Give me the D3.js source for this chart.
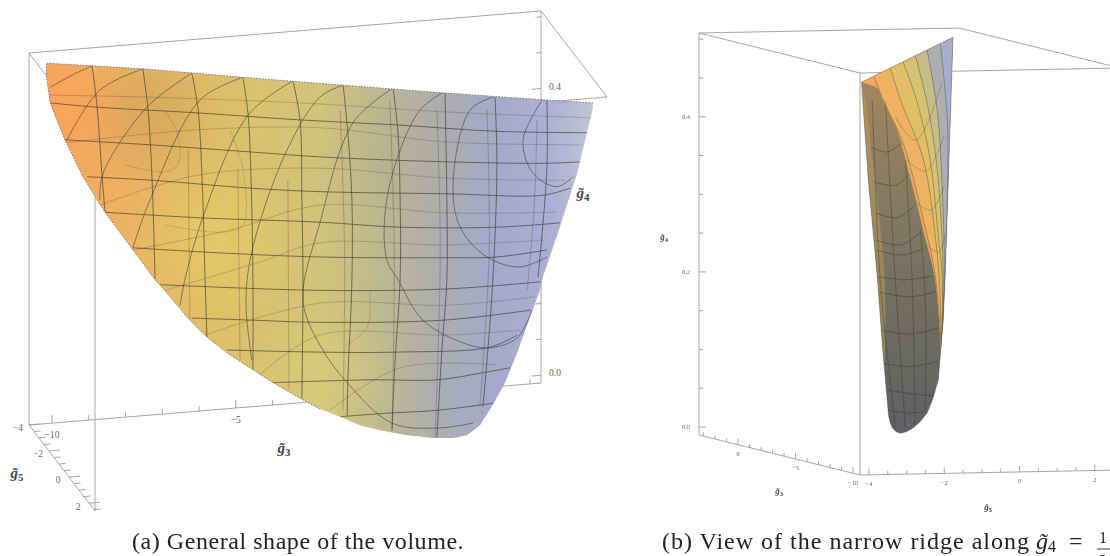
<!DOCTYPE html>
<html>
<head>
<meta charset="utf-8">
<script src="https://cdn.jsdelivr.net/npm/d3@7"></script>
<style>
  html, body { margin: 0; padding: 0; background: #fff; overflow: hidden; }
  svg { display: block; }
  text { font-family: "Liberation Serif", serif; }
</style>
</head>
<body>
<div class="canvas"></div>
<script>
// --- box extents and ticks, panel (a) and (b) share the same ranges
const g4Major = [0, 0.4];
const g4MajorB = [0, 0.2, 0.4];
const g3MajorA = [-10, -5];
const g3MajorB = [0, -5, -10];
const g5Major = [-4, -2, 0, 2];

// --- surface colours, left to right
const surfaceStops = [0, 0.1, 0.3, 0.5, 0.62, 0.72, 0.82, 0.92, 1];
const surfaceColors = ['#f7a35f', '#eeb162', '#dfc068', '#d2c47a', '#bcb893', '#adaeb0', '#a8a9c8', '#adb0d4', '#c2c4d2'];

// --- panel (a): outline of the volume, read as [g3, g4] in the view plane
const outlineA = [[-10.14,.435],[-7.53,.427],[-4.81,.415],[-2.09,.404],[.68,.393],[3.45,.383],[4.70,.379],[4.70,.372],
  [4.27,.280],[3.80,.204],[3.34,.134],[3.26,.115],[2.99,.077],[2.64,.027],[2.31,-.015],[1.98,-.046],[1.63,-.075],
  [1.28,-.089],[.90,-.093],[.35,-.093],[-.35,-.089],[-1.09,-.082],[-1.63,-.075],[-2.17,-.063],[-2.72,-.052],
  [-3.26,-.037],[-3.99,-.015],[-4.54,.003],[-5.16,.024],[-5.79,.049],[-6.33,.077],[-6.79,.106],[-7.20,.130],
  [-7.80,.172],[-8.56,.225],[-9.16,.275],[-9.65,.327],[-10.05,.379],[-10.16,.421]];

// strong lines running down the front of the surface
const downLinesA = [
  [[-8.91,.431],[-8.78,.376],[-8.64,.277],[-8.56,.225]],
  [[-7.53,.427],[-7.39,.369],[-7.28,.270],[-7.20,.130]],
  [[-6.20,.421],[-6.03,.369],[-5.92,.270],[-5.84,.130],[-5.79,.049]],
  [[-4.81,.415],[-4.67,.362],[-4.59,.270],[-4.54,.130],[-4.54,.003]],
  [[-3.45,.410],[-3.26,.355],[-3.21,.242],[-3.18,.130],[-3.21,-.037]],
  [[-2.09,.404],[-1.96,.337],[-1.85,.242],[-1.85,.130],[-1.96,-.011],[-1.98,-.063]],
  [[-.73,.400],[-.60,.337],[-.54,.242],[-.54,.130],[-.68,.013],[-.76,-.082]],
  [[.68,.393],[.73,.242],[.73,.130],[.60,.035],[.46,-.092]],
  [[2.04,.387],[2.09,.289],[1.98,.130],[1.85,.035],[1.71,-.049]],
  [[3.45,.383],[3.45,.289],[3.32,.196],[3.21,.134]]
];
// the same lines seen through the surface
const downFaintA = [
  [[-6.30,.313],[-6.25,.059]],
  [[-4.95,.285],[-4.89,.017]],
  [[-3.59,.270],[-3.56,-.025]],
  [[-2.17,.369],[-2.05,.170],[-2.09,-.054]],
  [[-.82,.383],[-.70,.170],[-.76,-.082]],
  [[.46,.369],[.55,.170],[.41,-.092]],
  [[1.82,.369],[1.88,.170],[1.63,-.046]],
  [[3.18,.355],[3.10,.230],[2.91,.115]]
];
// strong lines running across
const acrossLinesA = [
  [[-10.05,.379],[-8.78,.373],[-6.06,.365],[-3.26,.355],[-.63,.348],[2.09,.339],[4.54,.337]],
  [[-9.65,.327],[-7.34,.320],[-4.62,.310],[-2.72,.303],[.73,.296],[3.45,.294],[4.35,.296]],
  [[-9.05,.275],[-7.26,.270],[-4.62,.259],[-2.72,.254],[.73,.251],[3.34,.249],[4.08,.259]],
  [[-8.56,.225],[-5.90,.217],[-2.72,.211],[-.54,.204],[2.09,.204],[3.80,.210]],
  [[-7.80,.175],[-5.90,.169],[-2.72,.162],[.73,.161],[2.09,.162],[3.45,.172]],
  [[-7.07,.123],[-2.72,.115],[.73,.117],[3.26,.127]],
  [[-6.20,.076],[-4.54,.073],[-2.72,.070],[.63,.073],[2.99,.087]],
  [[-5.24,.031],[-2.72,.028],[-.63,.028],[1.90,.035],[2.64,.052]],
  [[-3.99,-.015],[-1.36,-.011],[.46,-.011],[1.71,-.001],[2.45,.006]],
  [[-2.17,-.063],[-.90,-.058],[.46,-.054],[1.98,-.044]]
];
const acrossFaintA = [
  [[-10.11,.390],[-7.34,.387],[-3.26,.379],[.82,.366],[4.62,.358]],
  [[-9.59,.323],[-6.06,.341],[-2.72,.344],[.73,.324],[4.35,.320]],
  [[-8.70,.235],[-6.06,.277],[-2.72,.287],[.73,.273],[3.94,.270]],
  [[-7.80,.172],[-5.16,.200],[-2.72,.235],[.73,.224],[3.67,.225]],
  [[-6.93,.115],[-4.35,.155],[-2.72,.182],[.73,.179],[3.40,.186]],
  [[-5.84,.052],[-2.72,.097],[.73,.094],[3.13,.106]],
  [[-4.35,-.004],[-2.72,.052],[.73,.052],[2.72,.059]],
  [[-2.45,-.054],[-.54,.006],[2.09,.010]]
];
// arcs that leave the top edge and bend round
const arcsA = [
  [[-8.91,.431],[-9.46,.418],[-10.05,.401]],
  [[-7.53,.427],[-8.70,.397],[-9.59,.327]],
  [[-6.20,.421],[-7.42,.373],[-8.61,.280],[-8.70,.242]],
  [[-4.81,.415],[-5.98,.383],[-7.34,.242],[-7.80,.175]],
  [[-3.45,.410],[-4.67,.362],[-5.90,.218],[-6.39,.130],[-6.52,.094]],
  [[-2.09,.404],[-2.72,.387],[-3.61,.313],[-4.54,.176],[-4.73,.101],[-4.57,.017]],
  [[-.73,.400],[-1.82,.351],[-2.72,.210],[-3.18,.101],[-2.72,.038],[-1.98,-.015],[-.76,-.072],[.46,-.079],[1.44,-.072]],
  [[.63,.394],[0,.369],[-.63,.299],[-.95,.224],[-.90,.158],[-.60,.130],[.08,.073],[1.17,.041],[1.90,.034],[2.64,.048],[3.04,.087]],
  [[1.98,.387],[1.36,.369],[.90,.266],[1.09,.204],[1.82,.162],[2.72,.148],[3.45,.162]],
  [[3.32,.383],[2.80,.327],[3.07,.280],[3.72,.261],[4.16,.275]]
];
const loopsA = [
  [[-6.93,.369],[-6.58,.334],[-6.58,.292],[-6.93,.282],[-8.02,.292]],
  [[-5.16,.341],[-4.81,.285],[-4.81,.207],[-5.30,.197],[-6.93,.207]],
  [[-1.36,.115],[-1.44,.063],[-2.09,.035]]
];

// --- panel (b): outline and faces, read as [g5, g4] in the view plane
const outlineB = [[-4.20,.445],[-1.76,.503],[-1.84,.383],[-1.97,.194],[-2.02,.138],[-2.15,.061],[-2.30,.036],[-2.45,.018],
  [-2.65,.006],[-2.82,-.001],[-3.00,-.006],[-3.16,-.008],[-3.28,-.006],[-3.38,-.001],[-3.43,.005],[-3.48,.015],
  [-3.64,.103],[-3.78,.194],[-4.02,.319]];
// curves that cut the lit face into colour bands, the first is the edge against the dark face
const bandCurvesB = [
  [[-4.20,.445],[-3.70,.435],[-3.35,.400],[-2.90,.323],[-2.50,.245],[-2.23,.190],[-2.07,.099]],
  [[-3.88,.454],[-3.62,.422],[-3.09,.366],[-2.55,.267],[-2.23,.194],[-2.07,.099]],
  [[-3.43,.463],[-3.16,.422],[-2.55,.345],[-2.23,.245],[-2.13,.194],[-2.07,.099]],
  [[-3.09,.471],[-2.71,.418],[-2.37,.345],[-2.15,.245],[-2.05,.194],[-2.07,.099]],
  [[-2.77,.480],[-2.45,.418],[-2.18,.332],[-2.02,.194],[-2.07,.099]],
  [[-2.45,.486],[-2.18,.409],[-2.05,.310],[-1.99,.194],[-2.07,.099]],
  [[-2.10,.495],[-1.91,.396],[-1.91,.302],[-1.97,.194],[-2.07,.099]],
  [[-1.76,.503],[-1.84,.383],[-1.97,.194],[-2.07,.099]]
];
const bandShares = [0.02, 0.12, 0.28, 0.42, 0.56, 0.72, 0.86];
const sliverB = [[-4.20,.445],[-4.02,.319],[-3.78,.194],[-3.60,.080],[-3.58,.190],[-3.84,.319],[-4.08,.42]];
const acrossLitB = [
  [[-3.30,.400],[-2.75,.370],[-2.05,.445]],
  [[-3.00,.345],[-2.50,.330],[-2.00,.375]],
  [[-2.75,.290],[-2.35,.280],[-2.00,.310]],
  [[-2.45,.235],[-2.15,.225],[-1.95,.250]]
];
// lines on the dark face
const downDarkB = [
  [[-3.91,.420],[-3.70,.190],[-3.30,.000]],
  [[-3.56,.420],[-3.30,.190],[-3.03,.000]],
  [[-3.03,.345],[-2.85,.190],[-2.77,.002]],
  [[-2.63,.255],[-2.50,.165],[-2.50,.022]]
];
const acrossDarkB = [
  [[-3.95,.361],[-3.50,.355],[-3.10,.368]],
  [[-3.85,.316],[-3.30,.312],[-2.95,.325]],
  [[-3.82,.276],[-3.25,.270],[-2.80,.285]],
  [[-3.80,.241],[-3.15,.235],[-2.65,.250]],
  [[-3.78,.228],[-3.10,.222],[-2.55,.230]],
  [[-3.78,.194],[-3.00,.190],[-2.30,.195]],
  [[-3.72,.174],[-2.90,.168],[-2.20,.175]],
  [[-3.68,.125],[-2.90,.120],[-2.15,.128]],
  [[-3.60,.082],[-2.90,.078],[-2.15,.085]],
  [[-3.52,.048],[-2.90,.043],[-2.30,.040]],
  [[-3.48,.022],[-3.00,.018],[-2.50,.020]]
];

// selecting canvas and creating svg container
const svg = d3.select('.canvas')
  .append('svg')
  .attr('width', 1110)
  .attr('height', 556);

const defs = svg.append('defs');
defs.append('filter').attr('id', 'soft')
  .append('feGaussianBlur').attr('stdDeviation', 0.5);
defs.append('filter').attr('id', 'softer')
  .attr('x', '-50%').attr('y', '-50%').attr('width', '200%').attr('height', '200%')
  .append('feGaussianBlur').attr('stdDeviation', 22);

// one affine projection per panel, built out of plain linear scales
function makeProject(x3, x5, floorY3, y5, y4) {
  return (g3, g5, g4) => [x3(g3) + x5(g5), floorY3(g3) + y5(g5) + y4(g4)];
}

function drawBox(group, project, edges) {
  group.selectAll('line.edge')
    .data(edges)
    .enter().append('line')
    .attr('class', 'edge')
    .attr('x1', d => project(...d[0])[0])
    .attr('y1', d => project(...d[0])[1])
    .attr('x2', d => project(...d[1])[0])
    .attr('y2', d => project(...d[1])[1])
    .attr('stroke', '#a6a6a6')
    .attr('stroke-width', 1);
}

// the top frame is the same in both panels
function topEdges(a, b, c, d, hi) {
  return [[[a, c, hi], [b, c, hi]], [[a, c, hi], [a, d, hi]], [[b, c, hi], [b, d, hi]], [[a, d, hi], [b, d, hi]]];
}

function drawTicks(group, ticks, from, dx, dy) {
  group.selectAll(null)
    .data(ticks)
    .enter().append('line')
    .attr('x1', d => from(d.v)[0])
    .attr('y1', d => from(d.v)[1])
    .attr('x2', d => from(d.v)[0] + dx * (d.major ? 1 : 0.6))
    .attr('y2', d => from(d.v)[1] + dy * (d.major ? 1 : 0.6))
    .attr('stroke', '#9a9a9a')
    .attr('stroke-width', 0.9);
}

function tickList(lo, hi, step, majors) {
  return d3.range(lo, hi + 1e-6, step).map(v => ({ v: v, major: majors.some(m => Math.abs(m - v) < 1e-6) }));
}

function drawLabels(group, values, from, dx, dy, fmt, size) {
  group.selectAll(null)
    .data(values)
    .enter().append('text')
    .attr('x', d => from(d)[0] + dx)
    .attr('y', d => from(d)[1] + dy)
    .attr('dy', '0.35em')
    .attr('text-anchor', 'middle')
    .attr('font-size', size)
    .attr('fill', '#666')
    .text(fmt);
}

function axisTitle(group, sub, x, y, size) {
  const t = group.append('text')
    .attr('x', x).attr('y', y)
    .attr('text-anchor', 'middle')
    .attr('font-size', size)
    .attr('font-weight', 'bold')
    .attr('fill', '#444');
  t.append('tspan').attr('font-style', 'italic').text('g\u0303');
  t.append('tspan').attr('font-size', size * 0.72).attr('dy', size * 0.22).text(sub);
}

function meshLines(group, gen, lines, color, width) {
  group.selectAll(null)
    .data(lines)
    .enter().append('path')
    .attr('d', gen)
    .attr('fill', 'none')
    .attr('stroke', color)
    .attr('stroke-width', width);
}

const minus = d => String(d).replace('-', '\u2212');
const curve = d3.curveCatmullRom.alpha(0.5);

// ===================== panel (a) =====================
const panelA = svg.append('g');
const limA = { g3: [-10.625, 3.3], g5: [-4, 2.6], g4: [-0.011, 0.508] };

const projectA = makeProject(
  d3.scaleLinear().domain([-10, 3.3]).range([52, 541]),
  d3.scaleLinear().domain(limA.g5).range([0, 66]),
  d3.scaleLinear().domain(limA.g3).range([425, 383]),
  d3.scaleLinear().domain(limA.g5).range([0, 86]),
  d3.scaleLinear().domain(limA.g4).range([0, -372])
);
{
  const [a, b] = limA.g3, [c, d] = limA.g5, [lo, hi] = limA.g4;
  drawBox(panelA, projectA, topEdges(a, b, c, d, hi).concat([
    [[a, c, lo], [b, c, lo]], [[a, c, lo], [a, d, lo]],
    [[a, c, lo], [a, c, hi]], [[b, c, lo], [b, c, hi]], [[a, d, lo], [a, d, hi]]
  ]));
}

drawTicks(panelA, tickList(-10, 3, 1, g3MajorA), v => projectA(v, limA.g5[0], limA.g4[0]), 0, -8);
drawTicks(panelA, tickList(-4, 2.5, 0.5, g5Major), v => projectA(limA.g3[0], v, limA.g4[0]), 11, -1);
drawTicks(panelA, tickList(0, 0.5, 0.05, g4Major), v => projectA(limA.g3[1], limA.g5[0], v), -9, 1);

drawLabels(panelA, g3MajorA, v => projectA(v, limA.g5[0], limA.g4[0]), 0, 12, minus, 9.5);
drawLabels(panelA, g5Major, v => projectA(limA.g3[0], v, limA.g4[0]), -11, 3, minus, 9.5);
drawLabels(panelA, g4Major, v => projectA(limA.g3[1], limA.g5[0], v), 14, -2, d3.format('.1f'), 9.5);

axisTitle(panelA, '3', 284, 453, 15);
axisTitle(panelA, '5', 17, 478, 15);
axisTitle(panelA, '4', 583, 198, 15);

// view plane of the surface
const viewXA = d3.scaleLinear().domain([-10, 0]).range([52, 420]);
const viewYA = d3.scaleLinear().domain([0, 0.4]).range([372, 88]);
const lineA = d3.line().x(d => viewXA(d[0])).y(d => viewYA(d[1]));
const curveA = d3.line().x(d => viewXA(d[0])).y(d => viewYA(d[1])).curve(curve);

const gradA = defs.append('linearGradient').attr('id', 'surfaceA')
  .attr('gradientUnits', 'userSpaceOnUse')
  .attr('x1', viewXA(-10.16)).attr('x2', viewXA(4.7))
  .attr('y1', 0).attr('y2', 0);
gradA.selectAll('stop')
  .data(surfaceStops)
  .enter().append('stop')
  .attr('offset', d => d)
  .attr('stop-color', (d, i) => surfaceColors[i]);

defs.append('clipPath').attr('id', 'clipA')
  .append('path').attr('d', lineA(outlineA) + 'Z');

panelA.append('path')
  .attr('d', lineA(outlineA) + 'Z')
  .attr('fill', 'url(#surfaceA)');

// soft patches of light and shade on the surface
const shadeA = panelA.append('g').attr('clip-path', 'url(#clipA)')
  .append('g').attr('filter', 'url(#softer)');
const patchesA = [
  { g3: -9.51, g4: .369, r: 40, fill: '#ffa25c', o: .7 },
  { g3: -7.34, g4: .362, r: 50, fill: '#c99a55', o: .45 },
  { g3: -8.97, g4: .256, r: 40, fill: '#f7a85e', o: .45 },
  { g3: -5.43, g4: .186, r: 55, fill: '#e8cc68', o: .55 },
  { g3: -2.45, g4: .003, r: 50, fill: '#ddd07a', o: .45 },
  { g3: -.54, g4: .299, r: 55, fill: '#aeaa8a', o: .3 },
  { g3: 2.5, g4: .172, r: 55, fill: '#a2a4d2', o: .25 },
  { g3: 1.36, g4: -.039, r: 35, fill: '#a2a8cd', o: .4 }
];
shadeA.selectAll('circle')
  .data(patchesA)
  .enter().append('circle')
  .attr('cx', d => viewXA(d.g3))
  .attr('cy', d => viewYA(d.g4))
  .attr('r', d => d.r)
  .attr('fill', d => d.fill)
  .attr('opacity', d => d.o);

const meshA = panelA.append('g').attr('filter', 'url(#soft)').attr('clip-path', 'url(#clipA)').attr('fill', 'none');
meshLines(meshA, curveA, downFaintA, 'rgba(50,50,40,0.26)', 1);
meshLines(meshA, curveA, acrossFaintA, 'rgba(50,50,40,0.22)', 1);
meshLines(meshA, curveA, loopsA, 'rgba(50,50,40,0.16)', 1);
meshLines(meshA, curveA, arcsA, 'rgba(50,50,50,0.52)', 1);
meshLines(meshA, curveA, downLinesA, 'rgba(50,50,45,0.6)', 1);
meshLines(meshA, curveA, acrossLinesA, 'rgba(50,50,45,0.6)', 1);

// serrated rim of the surface, along the top and down the left side
const rimA = [outlineA.slice(0, 7), outlineA.slice(24).concat([outlineA[0]])];
panelA.selectAll('path.rim')
  .data(rimA)
  .enter().append('path')
  .attr('class', 'rim')
  .attr('d', lineA)
  .attr('fill', 'none')
  .attr('stroke', '#808080')
  .attr('stroke-width', 1)
  .attr('stroke-dasharray', '1.6,1.4');

// ===================== panel (b) =====================
const panelB = svg.append('g');
const limB = { g3: [3.4, -10.6], g5: [-4.24, 2.67], g4: [-0.0103, 0.508] };

const projectB = makeProject(
  d3.scaleLinear().domain(limB.g3).range([699, 860]),
  d3.scaleLinear().domain(limB.g5).range([0, 260]),
  d3.scaleLinear().domain(limB.g3).range([435, 475]),
  d3.scaleLinear().domain(limB.g5).range([0, -5]),
  d3.scaleLinear().domain(limB.g4).range([0, -402])
);
{
  const [a, b] = limB.g3, [c, d] = limB.g5, [lo, hi] = limB.g4;
  drawBox(panelB, projectB, topEdges(a, b, c, d, hi).concat([
    [[a, c, lo], [b, c, lo]], [[b, c, lo], [b, d, lo]],
    [[a, c, lo], [a, c, hi]], [[b, c, lo], [b, c, hi]]
  ]));
}

drawTicks(panelB, tickList(-10, 3, 1, g3MajorB), v => projectB(v, limB.g5[0], limB.g4[0]), 0, -6);
drawTicks(panelB, tickList(-4, 2.5, 0.5, g5Major), v => projectB(limB.g3[1], v, limB.g4[0]), 0, -6);
drawTicks(panelB, tickList(0, 0.5, 0.05, g4MajorB), v => projectB(limB.g3[0], limB.g5[0], v), 7, 0);

drawLabels(panelB, g3MajorB, v => projectB(v, limB.g5[0], limB.g4[0]), 0, 9, minus, 6.5);
drawLabels(panelB, g5Major, v => projectB(limB.g3[1], v, limB.g4[0]), 0, 9, minus, 6.5);
drawLabels(panelB, g4MajorB, v => projectB(limB.g3[0], limB.g5[0], v), -13, 0, d3.format('.1f'), 6.5);

axisTitle(panelB, '3', 779, 494, 9);
axisTitle(panelB, '5', 988, 510, 9);
axisTitle(panelB, '4', 664, 240, 9);

const viewXB = d3.scaleLinear().domain([-4, 2]).range([869, 1094]);
const viewYB = d3.scaleLinear().domain([0, 0.4]).range([427, 117]);
const lineB = d3.line().x(d => viewXB(d[0])).y(d => viewYB(d[1]));
const curveB = d3.line().x(d => viewXB(d[0])).y(d => viewYB(d[1])).curve(curve);

const darkGrad = defs.append('linearGradient').attr('id', 'darkB')
  .attr('x1', 0).attr('x2', 0).attr('y1', 0).attr('y2', 1);
darkGrad.append('stop').attr('offset', 0).attr('stop-color', '#b08a5c');
darkGrad.append('stop').attr('offset', 0.3).attr('stop-color', '#8f7f62');
darkGrad.append('stop').attr('offset', 0.65).attr('stop-color', '#72705f');
darkGrad.append('stop').attr('offset', 1).attr('stop-color', '#5f5f66');

defs.append('clipPath').attr('id', 'clipB')
  .append('path').attr('d', lineB(outlineB) + 'Z');

panelB.append('path')
  .attr('d', lineB(outlineB) + 'Z')
  .attr('fill', 'url(#darkB)');

const faceB = panelB.append('g').attr('clip-path', 'url(#clipB)');

// thin yellow sliver along the left edge of the dark face
faceB.append('path')
  .attr('d', curveB(sliverB))
  .attr('fill', '#c2a35c')
  .attr('opacity', 0.45)
  .attr('filter', 'url(#soft)');

const bandColor = d3.scaleLinear().domain(surfaceStops).range(surfaceColors);
faceB.selectAll('path.band')
  .data(d3.pairs(bandCurvesB))
  .enter().append('path')
  .attr('class', 'band')
  .attr('d', d => curveB(d[0]) + 'L' + curveB(d[1].slice().reverse()).slice(1) + 'Z')
  .attr('fill', (d, i) => bandColor(bandShares[i]))
  .attr('stroke', (d, i) => bandColor(bandShares[i]))
  .attr('stroke-width', 0.5);

const meshB = faceB.append('g').attr('filter', 'url(#soft)');
meshLines(meshB, curveB, downDarkB, 'rgba(40,40,40,0.35)', 0.9);
meshLines(meshB, curveB, acrossDarkB, 'rgba(40,40,40,0.4)', 0.9);
meshLines(meshB, curveB, bandCurvesB.slice(1, 7), 'rgba(60,60,50,0.45)', 0.8);
meshLines(meshB, curveB, acrossLitB, 'rgba(60,60,50,0.35)', 0.8);

panelB.append('path')
  .attr('d', lineB(outlineB) + 'Z')
  .attr('fill', 'none')
  .attr('stroke', 'rgba(70,70,75,0.45)')
  .attr('stroke-width', 0.8);

// ===================== captions =====================
svg.append('text')
  .attr('x', 132).attr('y', 549)
  .attr('font-size', 24)
  .attr('letter-spacing', 0.55)
  .attr('fill', '#222')
  .text('(a) General shape of the volume.');

svg.append('text')
  .attr('x', 662).attr('y', 549)
  .attr('font-size', 24)
  .attr('letter-spacing', 1)
  .attr('fill', '#222')
  .text('(b) View of the narrow ridge along');

const captionMath = svg.append('text')
  .attr('x', 1036).attr('y', 549)
  .attr('font-size', 24)
  .attr('fill', '#222');
captionMath.append('tspan').attr('font-style', 'italic').text('g\u0303');
captionMath.append('tspan').attr('font-size', 16).attr('dy', 3).text('4');
svg.append('text').attr('x', 1069).attr('y', 549).attr('font-size', 24).attr('fill', '#222').text('=');

svg.append('text').attr('x', 1103).attr('y', 543).attr('text-anchor', 'middle').attr('font-size', 16).attr('fill', '#222').text('1');
svg.append('line').attr('x1', 1097).attr('x2', 1110).attr('y1', 549).attr('y2', 549).attr('stroke', '#222').attr('stroke-width', 0.9);
svg.append('text').attr('x', 1103).attr('y', 566).attr('text-anchor', 'middle').attr('font-size', 16).attr('fill', '#222').text('2');
</script>
</body>
</html>
